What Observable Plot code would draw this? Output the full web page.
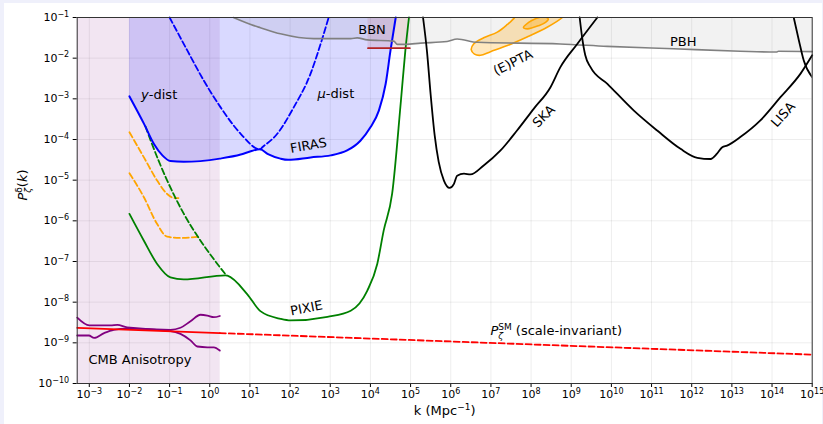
<!DOCTYPE html>
<html><head><meta charset="utf-8">
<script src="https://cdn.jsdelivr.net/npm/d3@7"></script>
<script src="https://cdn.jsdelivr.net/npm/@observablehq/plot@0.6"></script>
<style>
html,body{margin:0;padding:0;background:#eff0fb;}
#panel{position:absolute;left:4px;top:3px;width:818px;height:421px;background:#fff;}
#chart{position:absolute;left:0;top:0;}
</style></head><body><div id="panel"></div><div id="chart"></div>
<script>
// ---- axes ----
const xDomain = [5e-4, 1e15];
const yDomain = [1e-10, 1e-1];
const xTickValues = [1e-3,1e-2,1e-1,1e0,1e1,1e2,1e3,1e4,1e5,1e6,1e7,1e8,1e9,1e10,1e11,1e12,1e13,1e14,1e15];
const xTickLabels = ["10^-3","10^-2","10^-1","10^0","10^1","10^2","10^3","10^4","10^5","10^6","10^7","10^8","10^9","10^10","10^11","10^12","10^13","10^14","10^15"];
const yTickValues = [1e-10,1e-9,1e-8,1e-7,1e-6,1e-5,1e-4,1e-3,1e-2,1e-1];
const yTickLabels = ["10^-10","10^-9","10^-8","10^-7","10^-6","10^-5","10^-4","10^-3","10^-2","10^-1"];

// ---- curves: [log10 k, log10 P] ----
const firas = [[-2.0,-2.94],[-1.64,-3.61],[-1.39,-4.11],[-1.18,-4.39],[-0.98,-4.53],[-0.65,-4.55],[0.25,-4.47],[0.77,-4.37],[1.02,-4.29],[1.25,-4.24],[1.45,-4.36],[1.76,-4.47],[1.95,-4.50],[2.51,-4.44],[3.01,-4.39],[3.42,-4.27],[3.75,-4.03],[4.0,-3.70],[4.21,-3.29],[4.38,-2.63],[4.50,-1.81],[4.63,-1.0]];
const muDist = [[-1.0,-1.0],[-0.56,-1.81],[-0.15,-2.55],[0.27,-3.21],[0.77,-3.86],[1.25,-4.24],[1.31,-4.19],[1.68,-3.86],[2.09,-3.21],[2.51,-2.38],[2.76,-1.65],[2.96,-1.0]];
const orangeUpper = [[-2.0,-3.82],[-1.64,-4.44],[-1.31,-5.01],[-1.06,-5.34],[-0.88,-5.44],[-0.78,-5.44]];
const orangeLower = [[-2.0,-4.83],[-1.64,-5.42],[-1.31,-6.08],[-1.06,-6.39],[-0.73,-6.42],[-0.23,-6.39]];
const pixie = [[-2.0,-5.83],[-1.64,-6.49],[-1.31,-7.06],[-0.98,-7.39],[-0.65,-7.44],[0.39,-7.34],[0.44,-7.35],[0.93,-7.80],[1.26,-8.22],[1.76,-8.41],[2.01,-8.45],[2.93,-8.36],[3.51,-8.21],[3.92,-7.72],[4.17,-7.06],[4.33,-6.24],[4.54,-5.34],[4.76,-3.04],[4.87,-1.81],[4.96,-1.0]];
const pixieDashed = [[-1.6,-3.68],[-1.47,-4.03],[-1.06,-5.01],[-0.645,-5.83],[-0.23,-6.49],[0.19,-7.06],[0.42,-7.35]];
const cmbUpper = [[-3.30,-8.38],[-3.0,-8.57],[-2.47,-8.57],[-2.3,-8.56],[-2.06,-8.62],[-0.98,-8.68],[-0.73,-8.63],[-0.48,-8.47],[-0.23,-8.31],[-0.06,-8.33],[0.10,-8.37],[0.25,-8.34]];
const cmbLower = [[-3.30,-8.82],[-3.01,-8.82],[-2.88,-8.88],[-2.63,-8.76],[-2.39,-8.68],[-2.06,-8.65],[-0.98,-8.71],[-0.73,-8.78],[-0.48,-8.94],[-0.31,-9.09],[-0.06,-9.11],[0.10,-9.11],[0.25,-9.19]];
const smSolid = [[-3.30,-8.63],[0.25,-8.76]];
const smDashed = [[0.25,-8.76],[15.0,-9.29]];
const bbnLine = [[3.94,-1.755],[4.98,-1.755]];
const pbh = [[0.59,-1.0],[1.10,-1.20],[1.26,-1.25],[1.76,-1.40],[2.59,-1.52],[3.51,-1.52],[3.67,-1.50],[3.92,-1.55],[4.58,-1.58],[4.67,-1.66],[4.87,-1.66],[5.25,-1.63],[5.91,-1.59],[6.16,-1.53],[6.66,-1.61],[8.73,-1.65],[9.90,-1.71],[11.55,-1.77],[13.21,-1.83],[14.11,-1.85],[14.16,-1.83],[15.0,-1.84]];
const ptaOuter = [[7.66,-0.85],[7.59,-1.0],[7.41,-1.17],[7.16,-1.36],[6.82,-1.50],[6.57,-1.65],[6.51,-1.79],[6.59,-1.90],[6.74,-1.93],[6.99,-1.84],[7.41,-1.69],[7.90,-1.48],[8.40,-1.24],[8.78,-1.0],[8.9,-0.85]];
const ptaInner = [[7.81,-1.25],[7.94,-1.12],[8.11,-1.03],[8.31,-0.98],[8.43,-1.04],[8.36,-1.12],[8.19,-1.20],[7.91,-1.28]];
const ska = [[5.31,-1.0],[5.41,-1.85],[5.50,-2.9],[5.60,-3.9],[5.70,-4.55],[5.83,-5.01],[5.97,-5.19],[6.08,-5.09],[6.16,-4.89],[6.33,-4.84],[6.49,-4.86],[6.82,-4.64],[7.24,-4.27],[7.65,-3.78],[8.07,-3.24],[8.48,-2.72],[8.73,-2.22],[9.15,-1.65],[9.65,-1.0]];
const lisa = [[9.21,-1.0],[9.27,-1.48],[9.35,-1.93],[9.48,-2.22],[9.90,-2.63],[10.56,-3.29],[11.14,-3.78],[11.72,-4.23],[12.14,-4.45],[12.47,-4.48],[12.63,-4.35],[12.76,-4.19],[12.88,-4.15],[13.21,-3.94],[13.71,-3.53],[14.21,-2.96],[14.71,-2.38],[15.0,-1.93]];
const farRight = [[14.54,-1.0],[14.67,-1.57],[14.79,-2.06],[15.0,-2.47]];

// ---- bands (log10 values) ----
const cmbBand = [{k1:-3.30, k2:0.26, p1:-10, p2:-1}];
const bbnBand = [{k1:3.94, k2:4.98, p1:-1.755, p2:-1}];

// ---- annotations: [text, log10 k, log10 P, angle] ----
const annotations = [
  ["y-dist",-1.26,-2.89,0],
  ["μ-dist",3.14,-2.88,0],
  ["FIRAS",2.46,-4.15,-10],
  ["BBN",4.04,-1.30,0],
  ["(E)PTA",7.55,-2.11,-26],
  ["SKA",8.32,-3.43,-44],
  ["PBH",11.79,-1.59,0],
  ["LISA",14.28,-3.39,-48],
  ["PIXIE",2.41,-8.15,-11],
  ["CMB Anisotropy",-1.74,-9.43,0]
];
const smLabel = ["PζSM (scale-invariant)", 6.99, -8.70];
const xTitle = "k (Mpc^-1)";
const yTitle = "Pζδ(k)";

const pts = a => a.map(([lk, lp]) => ({k: 10 ** lk, P: 10 ** lp}));
const band = b => b.map(d => ({k1: 10 ** d.k1, k2: 10 ** d.k2, p1: 10 ** d.p1, p2: 10 ** d.p2}));
const TOP = yDomain[1];
const xLab = new Map(xTickValues.map((v, i) => [Math.round(Math.log10(v)), xTickLabels[i]]));
const yLab = new Map(yTickValues.map((v, i) => [Math.round(Math.log10(v)), yTickLabels[i]]));
const ann = annotations.map(([t, lk, lp, a]) => ({t, k: 10 ** lk, P: 10 ** lp, a}));

const LW = 1.8;
const L = (data, o) => Plot.line(pts(data), {x: "k", y: "P", curve: "monotone-x", strokeWidth: LW, ...o});
const dash = "6,3";

const chart = Plot.plot({
  width: 823, height: 424,
  marginLeft: 76.7, marginRight: 11.3, marginTop: 17, marginBottom: 41,
  style: {background: "transparent", fontFamily: "DejaVu Sans", fontSize: "11px", color: "#000", overflow: "visible"},
  x: {type: "log", domain: xDomain, ticks: xTickValues, tickFormat: d => xLab.get(Math.round(Math.log10(d))), tickSize: 4, tickPadding: 3, label: null},
  y: {type: "log", domain: yDomain, ticks: yTickValues, tickFormat: d => yLab.get(Math.round(Math.log10(d))), tickSize: 4, tickPadding: 4, label: null},
  marks: [
    Plot.ruleX(xTickValues, {stroke: "#000", strokeOpacity: 0.07}),
    Plot.ruleY(yTickValues, {stroke: "#000", strokeOpacity: 0.07}),
    Plot.rect(band(cmbBand), {x1: "k1", x2: "k2", y1: "p1", y2: "p2", fill: "purple", fillOpacity: 0.1}),
    Plot.areaY(pts(firas), {x: "k", y1: "P", y2: () => TOP, fill: "blue", fillOpacity: 0.15, curve: "monotone-x"}),
    Plot.areaY(pts(pbh), {x: "k", y1: "P", y2: () => TOP, fill: "gray", fillOpacity: 0.1, curve: "monotone-x"}),
    Plot.rect(band(bbnBand), {x1: "k1", x2: "k2", y1: "p1", y2: "p2", fill: "firebrick", fillOpacity: 0.11}),
    Plot.line(pts(ptaOuter), {x: "k", y: "P", curve: "catmull-rom-closed", fill: "orange", fillOpacity: 0.25, stroke: "orange", strokeWidth: 1.6, clip: true}),
    Plot.line(pts(ptaInner), {x: "k", y: "P", curve: "catmull-rom-closed", fill: "orange", fillOpacity: 0.35, stroke: "orange", strokeWidth: 1.6, clip: true}),
    L(cmbUpper, {stroke: "purple"}),
    L(cmbLower, {stroke: "purple"}),
    L(smSolid, {stroke: "red"}),
    L(smDashed, {stroke: "red", strokeDasharray: dash}),
    L(orangeUpper, {stroke: "orange", strokeDasharray: dash}),
    L(orangeLower, {stroke: "orange", strokeDasharray: dash}),
    L(pixieDashed, {stroke: "green", strokeDasharray: dash}),
    L(pixie, {stroke: "green"}),
    L(muDist, {stroke: "blue", strokeDasharray: dash}),
    L(firas, {stroke: "blue", strokeWidth: 2}),
    L(pbh, {stroke: "gray", strokeWidth: 1.6}),
    L(bbnLine, {stroke: "#b22222"}),
    L(ska, {stroke: "black"}),
    L(lisa, {stroke: "black"}),
    L(farRight, {stroke: "black", clip: true}),
    Plot.text(ann, {x: "k", y: "P", text: "t", rotate: "a", fontSize: 13, fill: "black"}),
    Plot.text([smLabel], {x: d => 10 ** d[1], y: d => 10 ** d[2], text: d => d[0], textAnchor: "start", fontSize: 13, fill: "black"}),
    Plot.text([xTitle], {frameAnchor: "bottom", dy: 31, fontSize: 13, fill: "black"}),
    Plot.text([yTitle], {frameAnchor: "left", dx: -54, rotate: -90, fontSize: 13, fill: "black"}),
    Plot.frame({stroke: "#333", strokeWidth: 1})
  ]
});
document.getElementById("chart").append(chart);

function rich(match, parts) {
  d3.select(chart).selectAll("text").filter(function () { return this.textContent === match; }).each(function () {
    const t = d3.select(this); t.text(null);
    for (const p of parts) {
      const s = t.append("tspan").text(p.t);
      for (const [key, v] of Object.entries(p)) if (key !== "t") s.attr(key, v);
    }
  });
}
rich("y-dist", [{t: "y", "font-style": "italic"}, {t: "-dist"}]);
rich("μ-dist", [{t: "μ", "font-style": "italic"}, {t: "-dist"}]);
rich("PζSM (scale-invariant)", [{t: "P", "font-style": "italic"}, {t: "SM", "font-size": 9, dy: -5}, {t: "ζ", "font-size": 9, "font-style": "italic", dx: -13.5, dy: 9}, {t: " (scale-invariant)", dx: 8.5, dy: -4}]);
rich(yTitle, [{t: "P", "font-style": "italic"}, {t: "δ", "font-size": 9, dy: -5}, {t: "ζ", "font-size": 9, "font-style": "italic", dx: -5.5, dy: 9}, {t: "(", dy: -4, dx: 0.6}, {t: "k", "font-style": "italic"}, {t: ")"}]);
rich(xTitle, [{t: "k (Mpc"}, {t: "−1", "font-size": 9, dy: -5}, {t: ")", dy: 5}]);
// power-of-ten tick labels with raised exponents
for (const lab of [...xTickLabels, ...yTickLabels]) {
  const e = lab.split("^")[1].replace("-", "−");
  rich(lab, [{t: "10"}, {t: e, "font-size": 8, dy: -4.5}]);
}
</script></body></html>
